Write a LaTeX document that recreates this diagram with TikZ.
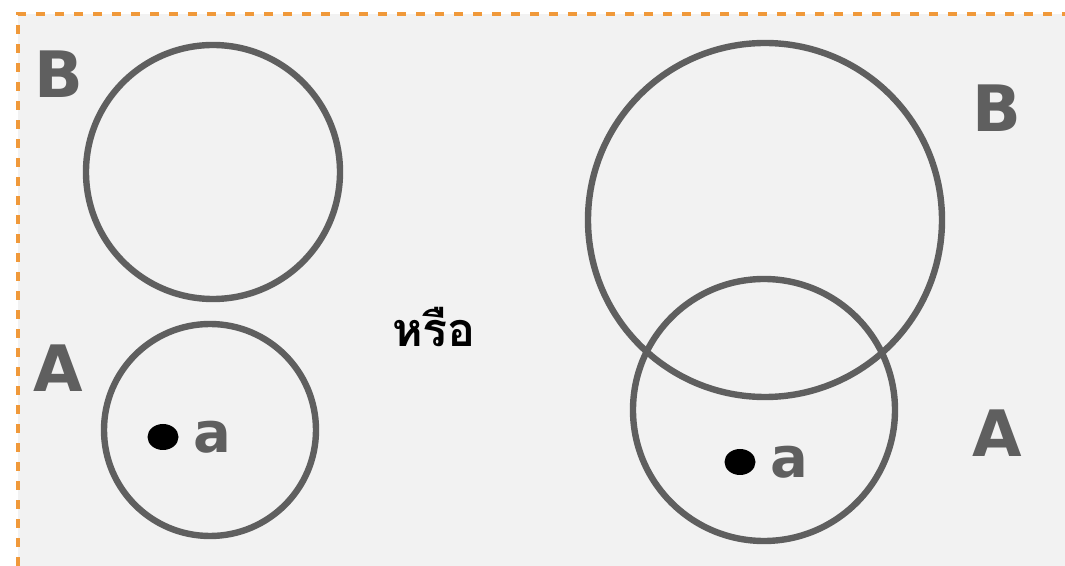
\documentclass[tikz,border=0pt]{standalone}
\usepackage{fontspec}
\setmainfont{DejaVu Sans}
\newfontfamily\thaifont[Script=Thai]{Loma}
\usetikzlibrary{positioning}
\usetikzlibrary{shapes.geometric}
\definecolor{setgray}{HTML}{5F5F5F}
\definecolor{panelgray}{HTML}{F2F2F2}
\definecolor{frameorange}{HTML}{F0993A}

\begin{document}
\begin{tikzpicture}[x=0.75pt, y=-0.75pt,
    set/.style={circle, draw=setgray, line width=4.8pt, inner sep=0, minimum size=#1},
    setname/.style={text=setgray, font=\fontsize{48}{48}\selectfont\bfseries, inner sep=0},
    elem/.style={text=setgray, font=\fontsize{42}{42}\selectfont\bfseries, inner sep=0},
    dot/.style={ellipse, fill=black, inner sep=0, minimum width=23.25pt, minimum height=19.5pt}
  ]
  \useasboundingbox (0,0) rectangle (1065,566);
  \fill[panelgray] (18,14) rectangle (1065,566);
  \draw[frameorange, line width=3.5pt, dash pattern=on 6.75pt off 7.5pt] (18,566) |- (1065,14);

  \node[set=190.5pt] (B1) at (213,172) {};
  \node[set=159pt] (A1) at (210,430) {};
  \node[setname] (nameB1) at (59,74) {B};
  \node[setname] (nameA1) at (58,368) {A};
  \node[dot] (dot1) at (163,437) {};
  \node[elem, right=11pt of dot1] (a1) {a};

  \node[font=\thaifont\fontsize{35}{35}\selectfont\bfseries, inner sep=0] (or) at (434,327) {หรือ};

  \node[set=265.5pt] (B2) at (765,220) {};
  \node[set=196.5pt] (A2) at (764,410) {};
  \node[setname] (nameB2) at (997,108) {B};
  \node[setname] (nameA2) at (997,433) {A};
  \node[dot] (dot2) at (740,462) {};
  \node[elem, right=11pt of dot2] (a2) {a};
\end{tikzpicture}
\end{document}
